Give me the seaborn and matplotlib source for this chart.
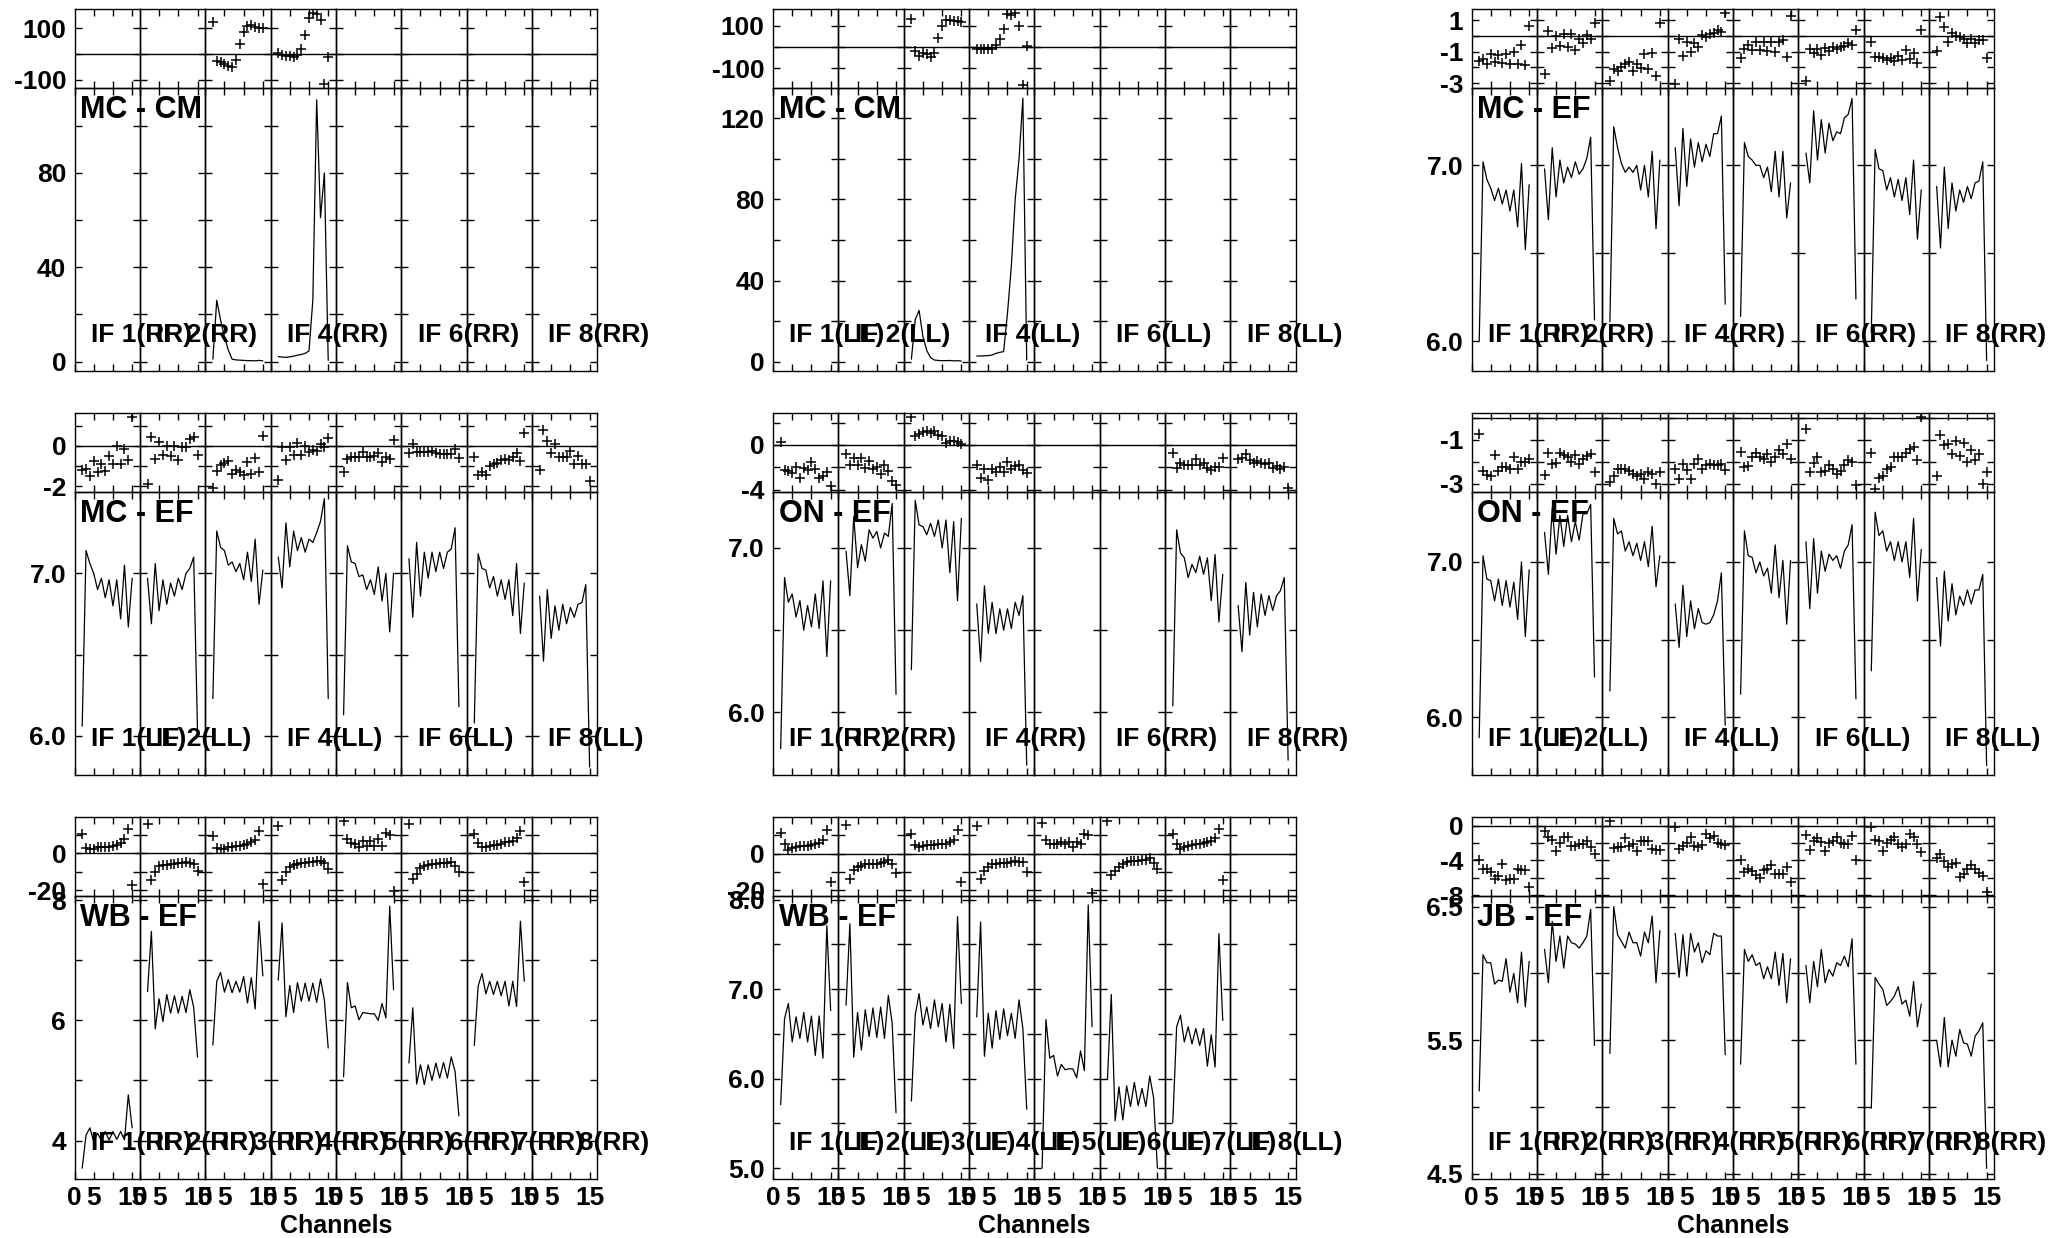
import matplotlib
matplotlib.use("Agg")
import matplotlib.pyplot as plt
import seaborn as sns

# ===============================
# data: channels 2..15 in every IF, None = IF without solutions
# ===============================

chan = list(range(2, 16))
NA = None

# row 1
mc_cm_rr_phs = [NA, NA,
    [122, -26, -31, -39, -45, -49, -23, 38, 83, 109, 113, 104, 101, 100],
    [2, -4, -7, -9, -13, -4, 18, 74, 139, 158, 156, 130, -117, -13],
    NA, NA, NA, NA]
mc_cm_rr_amp = [NA, NA,
    [1.0, 26, 17.6, 10.6, 4.9, 1.0, 0.7, 0.6, 0.5, 0.4, 0.4, 0.3, 0.5, 0.3],
    [2.1, 1.9, 1.8, 2.0, 2.3, 2.7, 3.0, 3.5, 4.5, 26, 111, 61, 80, 0.5],
    NA, NA, NA, NA]

mc_cm_ll_phs = [NA, NA,
    [131, -20, -44, -27, -35, -47, -28, 44, 98, 126, 126, 123, 123, 117],
    [-8, -8, -8, -8, -8, 8, 35, 85, 154, 150, 161, 98, -181, 5],
    NA, NA, NA, NA]
mc_cm_ll_amp = [NA, NA,
    [1.2, 20.7, 25.3, 12.4, 5.5, 2.0, 0.8, 0.6, 0.5, 0.5, 0.6, 0.4, 0.5, 0.3],
    [2.8, 2.8, 2.9, 3.0, 3.3, 4.1, 4.6, 5.0, 24, 47, 80, 100, 130, 0.8],
    NA, NA, NA, NA]

mc_ef_rr_phs = [
    [-1.62, -1.47, -1.77, -1.14, -1.68, -1.2, -1.73, -1.14, -1.77, -1.05, -1.79, -0.57, -1.87, 0.63],
    [-2.4, 0.32, -0.78, 0.0, -0.67, 0.1, -0.72, 0.1, -0.88, -0.19, -0.46, 0.06, -0.21, 0.8],
    [-2.84, -2.1, -2.2, -1.94, -1.77, -1.68, -2.2, -1.77, -2.04, -1.14, -2.1, -1.09, -2.57, 0.84],
    [-3.03, -0.21, -1.26, -0.42, -1.0, -0.46, -0.72, 0.06, -0.08, 0.13, 0.17, 0.34, 0.27, 1.47],
    [-1.41, -0.84, -0.57, -0.88, -0.42, -0.88, -0.42, -0.93, -0.42, -1.03, -0.42, -0.25, -1.35, 1.26],
    [-2.84, -0.84, -1.09, -0.84, -1.2, -0.78, -0.93, -0.72, -0.84, -0.72, -0.67, -0.46, -0.57, 0.38],
    [-0.42, -1.35, -1.35, -1.41, -1.52, -1.41, -1.56, -1.26, -1.52, -0.88, -1.47, -1.09, -1.73, 0.34],
    [-0.93, 1.18, 0.55, -0.36, 0.17, -0.04, -0.08, -0.21, -0.46, -0.21, -0.46, -0.29, -0.29, -1.41]]
mc_ef_rr_amp = [
    [6.0, 7.02, 6.92, 6.87, 6.8, 6.87, 6.78, 6.86, 6.74, 6.86, 6.65, 7.01, 6.52, 6.89],
    [6.98, 6.69, 7.10, 6.82, 7.03, 6.9, 6.99, 6.93, 7.02, 6.95, 6.98, 7.04, 7.16, 6.12],
    [6.11, 7.22, 7.10, 7.01, 6.96, 6.99, 6.96, 7.0, 6.86, 7.0, 6.82, 7.08, 6.64, 7.03],
    [7.10, 6.77, 7.21, 6.88, 7.15, 6.99, 7.13, 7.02, 7.12, 7.05, 7.18, 7.18, 7.28, 6.21],
    [6.14, 7.13, 7.05, 7.03, 7.0, 7.0, 6.93, 6.99, 6.85, 7.08, 6.82, 7.08, 6.7, 6.9],
    [7.07, 6.9, 7.31, 7.03, 7.26, 7.07, 7.24, 7.14, 7.19, 7.18, 7.27, 7.29, 7.38, 6.24],
    [6.05, 7.09, 6.98, 6.97, 6.86, 6.93, 6.82, 6.92, 6.8, 6.93, 6.72, 7.03, 6.58, 6.86],
    [6.88, 6.53, 6.99, 6.64, 6.9, 6.74, 6.86, 6.79, 6.88, 6.81, 6.9, 6.91, 7.02, 5.89]]

# row 2
mc_ef_ll_phs = [
    [-1.2, -1.12, -1.5, -0.73, -1.28, -0.87, -1.23, -0.5, -0.9, 0.0, -0.9, -0.17, -0.7, 1.43],
    [-1.9, 0.43, -0.67, 0.17, -0.45, 0.0, -0.5, 0.0, -0.7, -0.07, -0.03, 0.33, 0.43, -0.45],
    [-2.07, -1.23, -0.95, -0.83, -0.73, -1.37, -1.17, -1.28, -1.45, -0.78, -1.4, -0.62, -1.28, 0.5],
    [-1.67, -0.07, -0.7, -0.07, -0.45, 0.13, -0.45, 0.0, -0.28, -0.2, -0.23, 0.1, -0.07, 0.38],
    [-1.28, -0.67, -0.57, -0.53, -0.53, -0.28, -0.57, -0.57, -0.5, -0.37, -0.78, -0.57, -0.67, 0.27],
    [-0.33, 0.1, -0.28, -0.28, -0.28, -0.28, -0.23, -0.33, -0.4, -0.4, -0.4, -0.4, -0.17, -0.62],
    [-0.57, -1.45, -1.28, -1.45, -1.0, -0.9, -0.83, -0.7, -0.67, -0.7, -0.53, -0.37, -0.73, 0.63],
    [-1.2, 0.77, 0.22, -0.33, 0.1, -0.57, -0.53, -0.57, -0.23, -0.9, -0.5, -0.9, -0.9, -1.73]]
mc_ef_ll_amp = [
    [6.06, 7.14, 7.06, 7.0, 6.9, 6.97, 6.85, 6.96, 6.8, 6.96, 6.72, 7.05, 6.67, 6.97],
    [6.97, 6.69, 7.06, 6.77, 6.96, 6.81, 6.94, 6.86, 6.97, 6.9, 7.0, 7.03, 7.1, 6.03],
    [6.23, 7.26, 7.16, 7.14, 7.05, 7.07, 7.01, 7.06, 6.96, 7.13, 6.95, 7.21, 6.81, 7.02],
    [7.1, 6.91, 7.31, 7.04, 7.26, 7.14, 7.22, 7.13, 7.21, 7.19, 7.25, 7.32, 7.46, 6.23],
    [6.13, 7.17, 7.07, 7.06, 6.98, 6.99, 6.9, 6.96, 6.87, 7.04, 6.83, 7.0, 6.64, 7.0],
    [7.09, 6.73, 7.19, 6.86, 7.13, 6.97, 7.13, 7.01, 7.13, 7.03, 7.13, 7.15, 7.28, 6.18],
    [6.08, 7.12, 7.03, 7.02, 6.91, 6.98, 6.86, 6.96, 6.84, 6.96, 6.74, 7.06, 6.63, 6.94],
    [6.86, 6.46, 6.9, 6.6, 6.8, 6.65, 6.81, 6.69, 6.79, 6.73, 6.81, 6.82, 6.93, 5.81]]

on_ef_rr_phs = [
    [0.3, -2.24, -2.3, -2.48, -1.94, -2.99, -2.09, -2.24, -1.49, -2.18, -2.99, -2.78, -2.39, -3.67],
    [-0.81, -1.79, -1.19, -1.79, -1.19, -2.09, -1.4, -2.18, -1.94, -2.6, -1.79, -2.3, -3.19, -3.58],
    [2.48, 0.81, 0.99, 1.19, 1.28, 1.04, 1.28, 0.9, 0.81, 0.21, 0.39, 0.39, 0.3, 0.09],
    [-1.79, -2.99, -2.18, -3.13, -2.18, -2.39, -1.94, -2.39, -1.49, -2.18, -1.88, -1.79, -2.24, -2.54],
    NA, NA,
    [-0.75, -2.09, -1.58, -1.79, -1.79, -1.79, -1.28, -1.79, -1.64, -2.09, -2.24, -1.94, -2.0, -1.19],
    [-1.28, -1.19, -0.81, -1.34, -1.58, -1.4, -1.64, -1.7, -1.58, -2.09, -1.88, -2.18, -2.0, -3.88]]
on_ef_rr_amp = [
    [5.78, 6.82, 6.67, 6.72, 6.58, 6.68, 6.5, 6.65, 6.52, 6.72, 6.51, 6.8, 6.34, 6.8],
    [6.98, 6.71, 7.19, 6.88, 7.02, 6.92, 7.11, 7.06, 7.1, 7.0, 7.09, 7.07, 7.27, 6.11],
    [6.26, 7.29, 7.14, 7.13, 7.08, 7.15, 7.07, 7.17, 7.0, 7.17, 6.85, 7.16, 6.68, 7.18],
    [6.66, 6.31, 6.77, 6.48, 6.67, 6.48, 6.63, 6.5, 6.63, 6.51, 6.67, 6.59, 6.71, 5.68],
    NA, NA,
    [6.04, 7.11, 6.97, 6.94, 6.82, 6.9, 6.85, 6.95, 6.84, 6.94, 6.68, 6.96, 6.55, 6.84],
    [6.65, 6.37, 6.79, 6.47, 6.73, 6.52, 6.72, 6.59, 6.71, 6.62, 6.71, 6.74, 6.82, 5.71]]

on_ef_ll_phs = [
    [-0.72, -2.42, -2.62, -2.66, -1.69, -2.42, -2.26, -2.23, -2.31, -1.8, -2.31, -2.0, -2.0, -1.85],
    [-2.62, -1.58, -2.11, -2.05, -1.58, -1.69, -1.8, -2.0, -1.69, -2.11, -1.85, -1.74, -1.65, -2.46],
    [-2.92, -2.66, -2.31, -2.31, -2.35, -2.42, -2.57, -2.66, -2.57, -2.77, -2.46, -2.57, -3.0, -2.46],
    [-2.31, -2.77, -2.11, -2.38, -2.77, -2.08, -1.85, -2.35, -2.15, -2.08, -2.15, -2.15, -2.08, -2.38],
    [-1.54, -2.23, -2.2, -1.8, -1.62, -1.77, -1.85, -1.65, -2.0, -1.77, -1.46, -1.65, -1.18, -1.89],
    [-0.51, -2.46, -2.05, -1.8, -2.46, -2.42, -2.15, -2.35, -2.54, -2.42, -2.15, -1.92, -2.0, -3.08],
    [-1.58, -3.23, -2.72, -2.66, -2.31, -2.26, -1.8, -1.8, -1.8, -1.62, -1.43, -1.31, -1.92, 0.05],
    [-2.66, -0.77, -1.23, -1.18, -1.65, -1.03, -1.74, -1.12, -2.0, -1.46, -1.92, -1.65, -3.03, -2.46]]
on_ef_ll_amp = [
    [5.87, 7.04, 6.89, 6.88, 6.75, 6.89, 6.72, 6.88, 6.71, 6.87, 6.63, 7.0, 6.52, 6.95],
    [7.19, 6.92, 7.35, 7.05, 7.3, 7.1, 7.3, 7.13, 7.26, 7.14, 7.31, 7.31, 7.37, 6.26],
    [6.17, 7.28, 7.18, 7.2, 7.07, 7.13, 7.04, 7.12, 7.01, 7.13, 6.97, 7.23, 6.84, 7.04],
    [6.73, 6.45, 6.85, 6.52, 6.75, 6.57, 6.7, 6.61, 6.6, 6.61, 6.66, 6.75, 6.93, 5.95],
    [6.15, 7.2, 7.04, 7.03, 6.93, 7.0, 6.91, 6.96, 6.8, 7.11, 6.77, 7.01, 6.6, 7.01],
    [7.13, 6.7, 7.15, 6.8, 7.07, 6.94, 7.05, 7.01, 7.04, 6.96, 7.07, 7.11, 7.24, 6.12],
    [6.3, 7.32, 7.17, 7.2, 7.07, 7.13, 7.01, 7.13, 7.0, 7.13, 6.9, 7.28, 6.75, 7.08],
    [6.9, 6.46, 6.94, 6.62, 6.86, 6.66, 6.78, 6.72, 6.82, 6.73, 6.82, 6.82, 6.92, 5.69]]

# row 3
wb_ef_rr_phs = [
    [10.5, 2.7, 2.2, 2.4, 3.3, 3.6, 3.6, 3.6, 4.0, 4.5, 5.5, 7.6, 13.1, -17.3],
    [16, -14.2, -10, -6.9, -6.4, -6.4, -5.8, -5.8, -5.5, -5.1, -4.5, -5.1, -5.8, -9.5],
    [9.1, 2.7, 2.2, 2.2, 3.3, 3.6, 4.0, 4.0, 4.5, 5.1, 5.8, 7.3, 11.8, -16.4],
    [14.9, -14.5, -10, -7.3, -6.4, -5.8, -5.5, -5.1, -4.7, -4.5, -4.0, -4.0, -5.5, -8.7],
    [17.3, 7.6, 5.5, 5.1, 3.6, 6.4, 4.0, 6.4, 4.0, 7.6, 4.0, 10.9, 10.0, -20.4],
    [15.5, -13.6, -11.3, -8.2, -6.9, -6.4, -5.8, -5.8, -5.5, -5.5, -5.1, -4.5, -6.9, -10],
    [10.5, 5.5, 3.6, 3.6, 4.0, 4.5, 4.5, 5.1, 5.8, 5.8, 6.4, 8.2, 11.8, -15.5],
    NA]
wb_ef_rr_amp = [
    [3.54, 4.09, 4.21, 3.98, 4.12, 4.0, 4.15, 4.01, 4.15, 4.02, 4.15, 4.01, 4.76, 4.21],
    [6.48, 7.48, 5.86, 6.36, 5.98, 6.43, 6.12, 6.41, 6.12, 6.4, 6.13, 6.51, 6.22, 5.39],
    [5.59, 6.65, 6.8, 6.47, 6.68, 6.46, 6.65, 6.47, 6.73, 6.29, 6.71, 6.19, 7.65, 6.74],
    [6.67, 7.62, 6.06, 6.58, 6.13, 6.63, 6.32, 6.62, 6.32, 6.62, 6.3, 6.69, 6.34, 5.54],
    [5.06, 6.63, 6.21, 6.24, 6.01, 6.13, 6.12, 6.11, 6.11, 6.0, 6.28, 6.04, 7.9, 6.51],
    [5.29, 6.21, 4.94, 5.26, 4.93, 5.26, 5.0, 5.29, 5.04, 5.3, 5.04, 5.39, 5.15, 4.41],
    [5.58, 6.57, 6.78, 6.44, 6.65, 6.43, 6.65, 6.41, 6.65, 6.24, 6.65, 6.23, 7.65, 6.65],
    NA]

wb_ef_ll_phs = [
    [11.3, 5.1, 2.2, 3.3, 3.6, 4.0, 4.0, 4.0, 4.5, 5.5, 5.8, 7.6, 12.7, -15.5],
    [15.5, -13.6, -9.1, -7.3, -6.4, -5.8, -5.8, -5.8, -5.5, -5.1, -4.5, -3.6, -5.8, -10.5],
    [10.9, 4.5, 3.6, 4.0, 4.5, 4.5, 4.5, 5.1, 5.1, 5.5, 6.4, 7.6, 12.7, -15.5],
    [14.9, -13.6, -9.5, -7.3, -5.8, -5.5, -5.1, -5.1, -5.1, -4.5, -4.0, -4.5, -4.5, -10],
    [16.7, 7.6, 5.1, 5.1, 5.1, 6.4, 5.1, 6.4, 3.6, 6.4, 5.5, 10.5, 10, -21.5],
    [17.8, -11.3, -9.5, -7.3, -5.5, -4.5, -4.0, -4.0, -4.0, -3.6, -3.6, -2.2, -5.1, -8.2],
    [10.5, 5.5, 2.7, 3.6, 4.0, 4.5, 5.1, 5.5, 5.8, 6.4, 6.9, 8.7, 13.6, -14.5],
    NA]
wb_ef_ll_amp = [
    [5.71, 6.67, 6.84, 6.41, 6.69, 6.45, 6.74, 6.41, 6.7, 6.26, 6.7, 6.23, 7.71, 6.76],
    [6.82, 7.73, 6.24, 6.74, 6.32, 6.77, 6.47, 6.79, 6.46, 6.8, 6.45, 6.93, 6.62, 5.62],
    [5.75, 6.71, 6.95, 6.6, 6.8, 6.56, 6.88, 6.58, 6.84, 6.41, 6.83, 6.34, 7.81, 6.84],
    [6.69, 7.75, 6.25, 6.73, 6.34, 6.76, 6.44, 6.78, 6.48, 6.73, 6.45, 6.88, 6.56, 5.66],
    [5.0, 6.66, 6.23, 6.26, 6.03, 6.16, 6.1, 6.11, 6.11, 6.01, 6.31, 6.09, 7.94, 6.58],
    [5.99, 6.94, 5.53, 5.91, 5.54, 5.92, 5.69, 5.96, 5.7, 5.89, 5.69, 6.03, 5.79, 5.0],
    [5.51, 6.58, 6.71, 6.41, 6.58, 6.39, 6.56, 6.37, 6.56, 6.14, 6.49, 6.13, 7.62, 6.65],
    NA]

jb_ef_rr_phs = [
    [-4.0, -4.95, -4.95, -5.33, -6.1, -5.83, -4.38, -6.21, -6.1, -6.1, -4.95, -5.14, -5.07, -7.12],
    [-0.65, -1.26, -1.64, -2.86, -2.02, -1.33, -1.26, -2.29, -2.29, -2.1, -2.1, -1.71, -2.4, -3.31],
    [0.5, -2.55, -2.48, -2.48, -1.41, -2.29, -2.1, -2.86, -1.71, -1.71, -1.71, -2.67, -2.78, -2.78],
    [-0.11, -2.67, -2.29, -2.02, -1.26, -2.29, -2.48, -2.17, -0.95, -1.41, -1.14, -2.02, -2.1, -2.17],
    [-3.92, -5.33, -4.95, -5.22, -5.71, -5.98, -5.07, -4.95, -4.57, -5.6, -5.6, -5.6, -4.76, -6.48],
    [-1.03, -2.78, -1.71, -1.41, -1.9, -2.93, -2.02, -1.71, -1.26, -2.02, -2.1, -2.1, -1.14, -4.0],
    [-0.11, -1.64, -1.71, -2.86, -2.02, -1.64, -1.26, -2.1, -2.48, -2.1, -0.95, -1.33, -2.1, -3.05],
    [-3.7, -3.31, -4.08, -4.76, -4.46, -4.3, -5.9, -5.6, -4.95, -4.57, -4.95, -5.45, -5.83, -7.62]]
jb_ef_rr_amp = [
    [5.12, 6.14, 6.08, 6.08, 5.92, 5.95, 5.94, 6.11, 5.86, 6.0, 5.78, 6.16, 5.75, 6.09],
    [6.18, 5.93, 6.39, 6.09, 6.28, 6.04, 6.28, 6.23, 6.22, 6.19, 6.23, 6.28, 6.48, 5.46],
    [5.4, 6.5, 6.29, 6.24, 6.19, 6.31, 6.23, 6.23, 6.13, 6.31, 6.23, 6.43, 5.93, 6.32],
    [6.3, 5.97, 6.29, 5.98, 6.3, 6.16, 6.23, 6.08, 6.17, 6.14, 6.3, 6.28, 6.28, 5.39],
    [5.32, 6.18, 6.09, 6.14, 6.06, 6.08, 5.96, 6.05, 5.96, 6.16, 5.91, 6.15, 5.78, 6.11],
    [6.06, 5.78, 6.09, 5.9, 6.18, 5.93, 6.03, 5.98, 6.08, 6.06, 6.13, 6.05, 6.26, 5.32],
    [4.99, 5.97, 5.92, 5.88, 5.76, 5.79, 5.83, 5.9, 5.77, 5.8, 5.68, 5.94, 5.6, 5.77],
    [5.5, 5.3, 5.67, 5.3, 5.5, 5.38, 5.58, 5.48, 5.47, 5.38, 5.53, 5.57, 5.63, 4.54]]

# ===============================
# panel settings (name, polarisation, axis ranges, ticks)
# ===============================

panels = [
    dict(row=0, col=0, name="MC - CM", pol="RR", phs=mc_cm_rr_phs, amp=mc_cm_rr_amp,
         plim=(-132, 174), pt=[-100, 0, 100], pl=["-100", "", "100"],
         alim=(-4, 116), at=[0, 20, 40, 60, 80, 100], al=["0", "", "40", "", "80", ""]),
    dict(row=0, col=1, name="MC - CM", pol="LL", phs=mc_cm_ll_phs, amp=mc_cm_ll_amp,
         plim=(-194, 179), pt=[-100, 0, 100], pl=["-100", "", "100"],
         alim=(-4.6, 135), at=[0, 20, 40, 60, 80, 100, 120], al=["0", "", "40", "", "80", "", "120"]),
    dict(row=0, col=2, name="MC - EF", pol="RR", phs=mc_ef_rr_phs, amp=mc_ef_rr_amp,
         plim=(-3.3, 1.7), pt=[-3, -2, -1, 0, 1], pl=["-3", "", "-1", "", "1"],
         alim=(5.83, 7.44), at=[6.0, 6.5, 7.0], al=["6.0", "", "7.0"]),
    dict(row=1, col=0, name="MC - EF", pol="LL", phs=mc_ef_ll_phs, amp=mc_ef_ll_amp,
         plim=(-2.28, 1.63), pt=[-2, -1, 0, 1], pl=["-2", "", "0", ""],
         alim=(5.76, 7.5), at=[6.0, 6.5, 7.0], al=["6.0", "", "7.0"]),
    dict(row=1, col=1, name="ON - EF", pol="RR", phs=on_ef_rr_phs, amp=on_ef_rr_amp,
         plim=(-4.2, 2.85), pt=[-4, -2, 0, 2], pl=["-4", "", "0", ""],
         alim=(5.62, 7.34), at=[6.0, 6.5, 7.0], al=["6.0", "", "7.0"]),
    dict(row=1, col=2, name="ON - EF", pol="LL", phs=on_ef_ll_phs, amp=on_ef_ll_amp,
         plim=(-3.38, 0.23), pt=[-3, -2, -1, 0], pl=["-3", "", "-1", ""],
         alim=(5.63, 7.45), at=[6.0, 6.5, 7.0], al=["6.0", "", "7.0"]),
    dict(row=2, col=0, name="WB - EF", pol="RR", phs=wb_ef_rr_phs, amp=wb_ef_rr_amp,
         plim=(-23, 19.5), pt=[-20, -10, 0, 10], pl=["-20", "", "0", ""],
         alim=(3.36, 8.07), at=[4, 5, 6, 7, 8], al=["4", "", "6", "", "8"]),
    dict(row=2, col=1, name="WB - EF", pol="LL", phs=wb_ef_ll_phs, amp=wb_ef_ll_amp,
         plim=(-23, 20), pt=[-20, -10, 0, 10], pl=["-20", "", "0", ""],
         alim=(4.88, 8.04), at=[5.0, 5.5, 6.0, 6.5, 7.0, 7.5, 8.0],
         al=["5.0", "", "6.0", "", "7.0", "", "8.0"]),
    dict(row=2, col=2, name="JB - EF", pol="RR", phs=jb_ef_rr_phs, amp=jb_ef_rr_amp,
         plim=(-8.1, 1.0), pt=[-8, -6, -4, -2, 0], pl=["-8", "", "-4", "", "0"],
         alim=(4.46, 6.58), at=[4.5, 5.0, 5.5, 6.0, 6.5], al=["4.5", "", "5.5", "", "6.5"]),
]

# which IFs get an "IF n(..)" label
if_labelled = [[1, 2, 4, 6, 8], [1, 2, 4, 6, 8], [1, 2, 3, 4, 5, 6, 7, 8]]

# ===============================
# layout in pixels
# ===============================

W, H = 2049, 1238
col_x = [74.5, 773.0, 1471.5]
if_w = 65.35
row_top = [9, 413, 817]
row_mid = [88, 492, 896]
row_bot = [371, 775, 1179]

sns.set_theme(style="ticks")
plt.rcParams["font.family"] = ["Liberation Sans Narrow", "Liberation Sans", "DejaVu Sans"]
plt.rcParams["font.weight"] = "bold"
plt.rcParams["font.size"] = 19
plt.rcParams["text.color"] = "black"
plt.rcParams["axes.edgecolor"] = "black"
plt.rcParams["axes.linewidth"] = 1.0
plt.rcParams["xtick.color"] = "black"
plt.rcParams["ytick.color"] = "black"

fig = plt.figure(figsize=(W / 100, H / 100), dpi=100)
fig.patch.set_facecolor("white")


def style_axis(ax):
    ax.set_facecolor("none")
    ax.tick_params(axis="both", direction="in", length=5, width=1.0,
                   top=True, bottom=True, left=True, right=True,
                   labelleft=False, labelbottom=False, labelsize=19,
                   labelcolor="black")
    ax.tick_params(axis="y", pad=6)
    ax.tick_params(axis="x", pad=5)
    ax.set_xlabel("")
    ax.set_ylabel("")
    ax.set_xlim(0, 17)


for p in panels:
    r, c = p["row"], p["col"]
    amp_h = row_bot[r] - row_mid[r]
    for k in range(8):
        left_px = col_x[c] + k * if_w
        axp = fig.add_axes([left_px / W, 1 - row_mid[r] / H, if_w / W, (row_mid[r] - row_top[r]) / H])
        axa = fig.add_axes([left_px / W, 1 - row_bot[r] / H, if_w / W, amp_h / H])

        if p["phs"][k] is not None:
            sns.scatterplot(x=chan, y=p["phs"][k], ax=axp, marker="+", s=60,
                            color="black", linewidth=1.1, legend=False)
        if p["amp"][k] is not None:
            sns.lineplot(x=chan, y=p["amp"][k], ax=axa, color="black", lw=0.9,
                         sort=False, estimator=None, legend=False)
        axp.axhline(0, color="black", lw=1.0)

        for ax in (axp, axa):
            style_axis(ax)
        axp.set_ylim(*p["plim"])
        axp.set_yticks(p["pt"])
        axp.set_yticklabels(p["pl"])
        axp.set_xticks([5, 10, 15])
        axa.set_ylim(*p["alim"])
        axa.set_yticks(p["at"])
        axa.set_yticklabels(p["al"])
        axa.set_xticks([0, 5, 10, 15])
        axa.set_xticklabels(["0", "5", "", "15"])
        if k == 0:
            axp.tick_params(labelleft=True)
            axa.tick_params(labelleft=True)
        if r == 2:
            axa.tick_params(labelbottom=True)
        if (k + 1) in if_labelled[r]:
            fig.text((left_px + 0.25 * if_w) / W, 1 - (row_bot[r] - 0.128 * amp_h) / H,
                     "IF %d(%s)" % (k + 1, p["pol"]), ha="left", va="center",
                     fontsize=19, fontweight="bold", color="black", zorder=5)
    # baseline name in the upper left corner of the amplitude box
    fig.text((col_x[c] + 0.09 * if_w) / W, 1 - (row_mid[r] + 0.077 * amp_h) / H,
             p["name"], ha="left", va="center", fontsize=22, fontweight="bold",
             color="black", zorder=5)

# x axis title under each bottom panel
for c in range(3):
    fig.text((col_x[c] + 4 * if_w) / W, 1 - 1226 / H, "Channels", ha="center",
             va="center", fontsize=18, fontweight="bold", color="black")

fig.savefig("out.png", dpi=100)
